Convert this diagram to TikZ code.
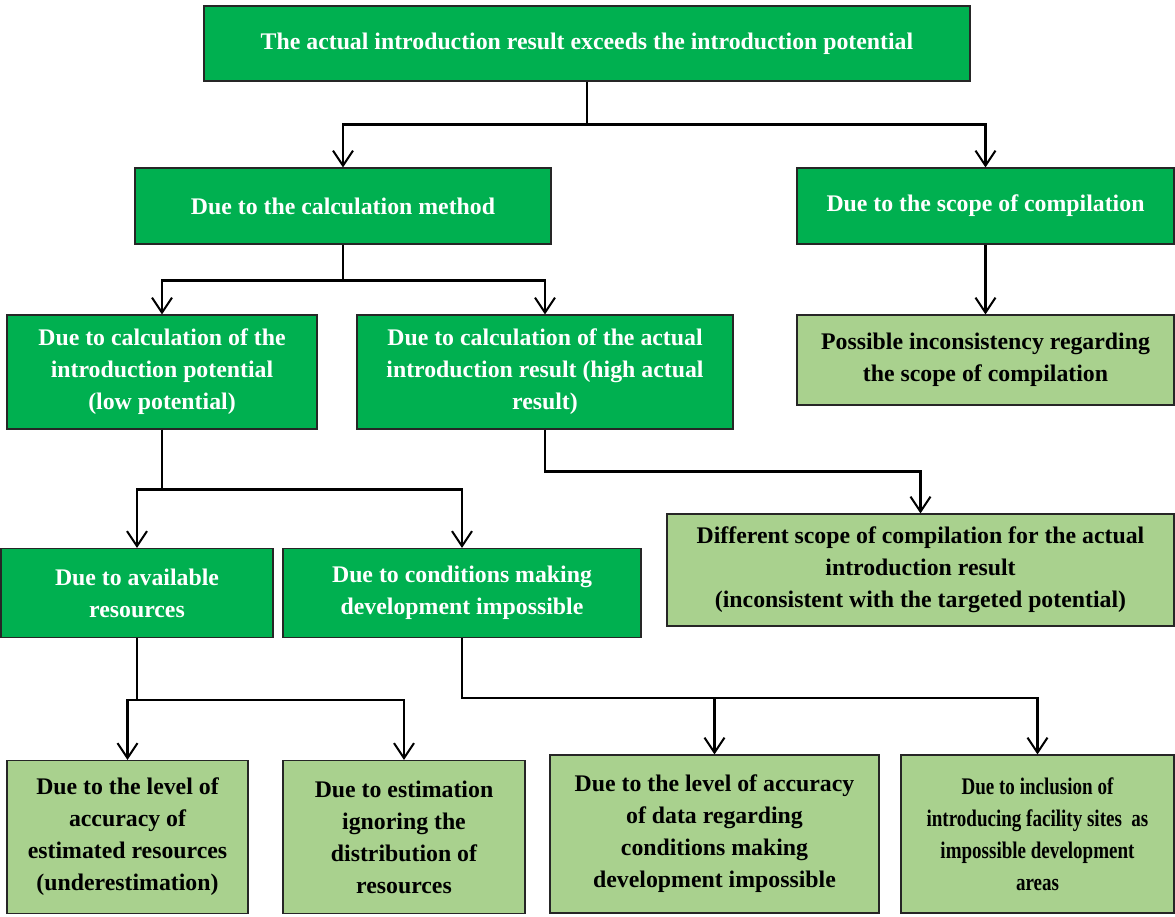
\documentclass[tikz,border=0pt]{standalone}
\usepackage{fontspec}
\setmainfont{Liberation Serif}
\newfontfamily\condserif[FakeStretch=0.8]{Liberation Serif}
\usetikzlibrary{arrows.meta}
\definecolor{darkgr}{RGB}{0,176,80}
\definecolor{lightgr}{RGB}{169,209,142}
\begin{document}
\begin{tikzpicture}[x=1pt,y=-1pt,
  box/.style={draw=black!85,line width=1.2pt,inner sep=0pt,align=center,
    font=\fontsize{23.8}{32}\selectfont\bfseries},
  dark/.style={box,fill=darkgr,text=white},
  light/.style={box,fill=lightgr,text=black},
  link/.style={line width=2.6pt,-{Straight Barb[length=15pt,width=20pt,line width=2pt]}}]
\useasboundingbox (0,0) rectangle (1175,916);
\node[dark,minimum width=766,minimum height=75] (top) at (587,43.5) {The actual introduction result exceeds the introduction potential};
\node[dark,minimum width=416,minimum height=76] (calc) at (343,206) {Due to the calculation method};
\node[dark,minimum width=377,minimum height=76] (scope) at (985.5,206) {Due to the scope of compilation};
\node[dark,minimum width=310,minimum height=114] (pot) at (162,372) {Due to calculation of the\\introduction potential\\(low potential)};
\node[dark,minimum width=376,minimum height=114] (act) at (545,372) {Due to calculation of the actual\\introduction result (high actual\\result)};
\node[light,minimum width=377,minimum height=90] (incons) at (985.5,360) {Possible inconsistency regarding\\the scope of compilation};
\node[light,minimum width=507,minimum height=112] (diff) at (920.5,570) {Different scope of compilation for the actual\\introduction result\\(inconsistent with the targeted potential)};
\node[dark,minimum width=272,minimum height=89] (res) at (137,593) {Due to available\\resources};
\node[dark,minimum width=358,minimum height=89] (cond) at (462,593) {Due to conditions making\\development impossible};
\node[light,minimum width=241,minimum height=153] (acc) at (127.5,837) {Due to the level of\\accuracy of\\estimated resources\\(underestimation)};
\node[light,minimum width=242,minimum height=153] (dist) at (404,837) {Due to estimation\\ignoring the\\distribution of\\resources};
\node[light,minimum width=329,minimum height=158] (data) at (714.5,834) {Due to the level of accuracy\\of data regarding\\conditions making\\development impossible};
\node[light,minimum width=273,minimum height=158,font=\fontsize{23.8}{32}\condserif\bfseries] (incl) at (1037.5,834) {Due to inclusion of\\introducing facility sites\ \ as\\impossible development\\areas};
\draw[link] (top.south) -- ++(0,43) -| (calc.north);
\draw[link] (top.south) -- ++(0,43) -| (scope.north);
\draw[link] (calc.south) -- ++(0,36) -| (pot.north);
\draw[link] (calc.south) -- ++(0,36) -| (act.north);
\draw[link] (scope) -- (incons);
\draw[link] (pot.south) -- ++(0,60) -| (res.north);
\draw[link] (pot.south) -- ++(0,60) -| (cond.north);
\draw[link] (act.south) -- ++(0,42) -| (diff.north);
\draw[link] (res.south) -- ++(0,62) -| (acc.north);
\draw[link] (res.south) -- ++(0,62) -| (dist.north);
\draw[link] (cond.south) -- ++(0,60) -| (data.north);
\draw[link] (cond.south) -- ++(0,60) -| (incl.north);
\end{tikzpicture}
\end{document}
